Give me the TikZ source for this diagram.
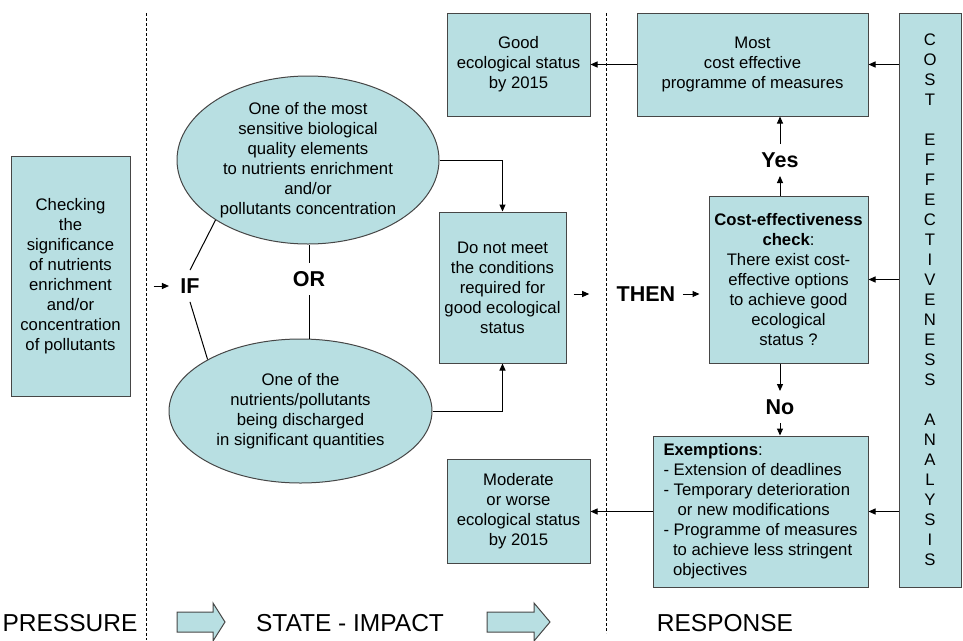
\documentclass[tikz,border=0pt]{standalone}
\usepackage{fontspec}
\setmainfont{Liberation Sans}
\usetikzlibrary{arrows.meta,shapes.geometric,positioning}
\definecolor{boxfill}{RGB}{184,223,226}
\definecolor{boxline}{RGB}{70,70,70}
\newcommand{\txtsize}{\fontsize{16.7}{20}\selectfont}
\newcommand{\keysize}{\fontsize{21.5}{24}\selectfont\bfseries}
\newcommand{\stagesize}{\fontsize{24.5}{28}\selectfont}

\begin{document}
\begin{tikzpicture}[x=1pt,y=-1pt,line width=1pt,
    >={Triangle[length=7pt,width=6pt]},
    box/.style={draw=boxline,fill=boxfill,align=center,font=\txtsize,inner sep=0pt},
    oval/.style={box,ellipse},
    keyword/.style={font=\keysize,inner xsep=2pt,inner ysep=8pt},
    stage/.style={font=\stagesize,inner sep=0pt},
    blockarrow/.style={draw=boxline,fill=boxfill},
    separator/.style={line width=0.6pt,dash pattern=on 3pt off 2pt}]
      \useasboundingbox (0,0) rectangle (963,640);

      \node[box,minimum width=119pt,minimum height=240pt] (chk) at (70.5,276)
        {Checking\\the\\significance\\of nutrients\\enrichment\\and/or\\concentration\\of pollutants};
      \node[oval,minimum width=262pt,minimum height=168pt] (ellT) at (308,160)
        {One of the most\\sensitive biological\\quality elements\\to nutrients enrichment\\and/or\\pollutants concentration};
      \node[oval,minimum width=263pt,minimum height=144pt] (ellB) at (300.5,411)
        {One of the\\nutrients/pollutants\\being discharged\\in significant quantities};
      \node[keyword] (IF) at (190,286) {IF};
      \node[keyword] (OR) at (309,279) {OR};
      \node[box,minimum width=127pt,minimum height=151pt] (dnm) at (502.5,287.5)
        {Do not meet\\the conditions\\required for\\good ecological\\status};
      \node[box,minimum width=143pt,minimum height=103pt] (good) at (518.5,64.5)
        {Good\\ecological status\\by 2015};
      \node[box,minimum width=143pt,minimum height=104pt] (moder) at (518.5,511)
        {Moderate\\or worse\\ecological status\\by 2015};
      \node[keyword] (THEN) at (646,294) {THEN};
      \node[box,minimum width=231pt,minimum height=103pt] (most) at (752.5,64.5)
        {Most\\cost effective\\programme of measures};
      \node[box,minimum width=159pt,minimum height=167pt] (check) at (788.5,279.5)
        {\textbf{Cost-effectiveness}\\\textbf{check}:\\There exist cost-\\effective options\\to achieve good\\ecological\\status ?};
      \node[keyword] (yes) at (780,160) {Yes};
      \node[keyword] (no) at (780,407) {No};
      \node[box,align=left,minimum width=215pt,minimum height=151pt] (exempt) at (760.5,511.5)
        {\textbf{Exemptions}:\\- Extension of deadlines\\- Temporary deterioration\\\hspace*{14pt}or new modifications\\- Programme of measures\\\hspace*{9.5pt}to achieve less stringent\\\hspace*{9.5pt}objectives};
      \node[box,minimum width=62pt,minimum height=574pt] (cea) at (930,300)
        {C\\O\\S\\T\\[20pt]E\\F\\F\\E\\C\\T\\I\\V\\E\\N\\E\\S\\S\\[20pt]A\\N\\A\\L\\Y\\S\\I\\S};

      \begin{scope}[stage]
        \node (pressure) at (70,623.5) {PRESSURE};
        \node (state) at (350,623.5) {STATE - IMPACT};
        \node (response) at (725,623.5) {RESPONSE};
      \end{scope}

      \foreach \a/\b/\c in {177/213/225,487/534/550}
        \draw[blockarrow] (\a,612) -- (\b,612) -- (\b,603) -- (\c,622) -- (\b,641) -- (\b,632) -- (\a,632) -- cycle;

      \draw[separator] (146,13) -- (146,640) (606,13) -- (606,633);

      \draw (ellT.213) -- (IF.north) (IF.south) -- (ellB.151);
      \draw (OR.north) -- (OR.north |- ellT.south) (OR.south) -- (OR.south |- ellB.north);
      \draw[->] (ellT.east) -| (dnm.north);
      \draw[->] (ellB.east) -| (dnm.south);
      \draw[->,shorten <=23pt,shorten >=9pt] (chk.east |- IF) -- (IF.west);
      \draw[->,shorten <=7pt,shorten >=25pt] (dnm.east |- THEN) -- (THEN.west);
      \draw[->,shorten <=5pt,shorten >=9pt] (THEN.east) -- (THEN.east -| check.west);
      \draw[->] (yes.south |- check.north) -- (yes.south);
      \draw[->] (yes.north) -- (yes.north |- most.south);
      \draw[->] (no.north |- check.south) -- (no.north);
      \draw[->] (no.south) -- (no.south |- exempt.north);
      \draw[->] (most.west) -- (most.west -| good.east);
      \draw[->] (exempt.west) -- (exempt.west -| moder.east);
      \foreach \n in {most,check,exempt}
        \draw[->] (cea.west |- \n) -- (\n.east);
    \end{tikzpicture}
\end{document}
